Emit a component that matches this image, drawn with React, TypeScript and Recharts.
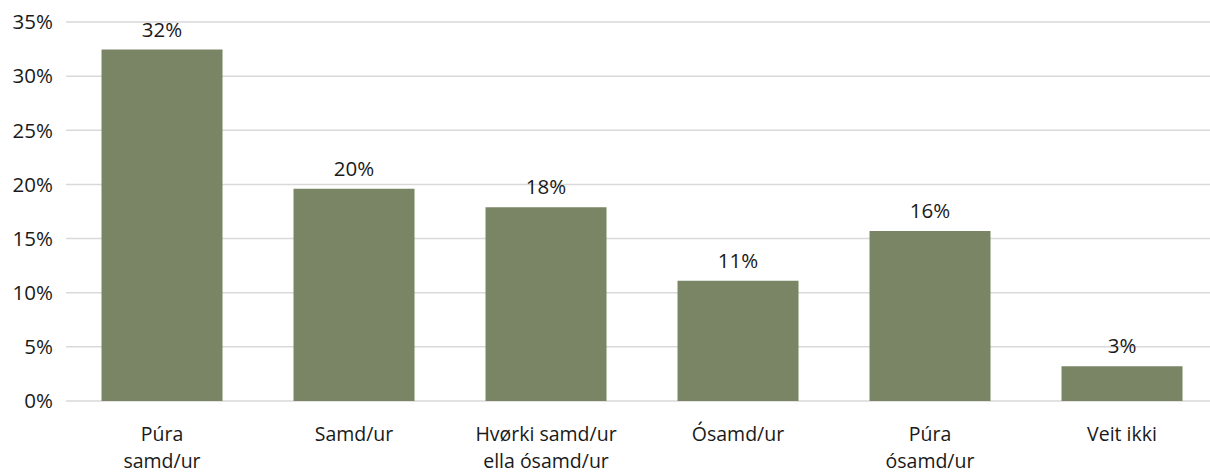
import React from "react";
import {
  BarChart,
  Bar,
  XAxis,
  YAxis,
  CartesianGrid,
  LabelList,
} from "recharts";

const categories = [
  "Púra\nsamd/ur",
  "Samd/ur",
  "Hvørki samd/ur\nella ósamd/ur",
  "Ósamd/ur",
  "Púra\nósamd/ur",
  "Veit ikki",
];
const shares = [32.45, 19.6, 17.9, 11.1, 15.7, 3.2];
const yTicks = [0, 5, 10, 15, 20, 25, 30, 35];

const data = categories.map((name, i) => ({ name, value: shares[i] }));

const FONT = "'Open Sans', sans-serif";
const TEXT = "#1a1a1a";

function CategoryTick(props: any) {
  const { x, y, payload } = props;
  const lines = String(payload.value).split("\n");
  return (
    <text
      x={x}
      y={y}
      textAnchor="middle"
      fill={TEXT}
      fontFamily={FONT}
      fontSize={19.5}
    >
      {lines.map((line, i) => (
        <tspan key={i} x={x} dy={i === 0 ? 40 : 27}>
          {line}
        </tspan>
      ))}
    </text>
  );
}

export default function App() {
  return (
    <div
      style={{
        position: "fixed",
        left: 0,
        top: 0,
        width: 1210,
        height: 473,
        overflow: "hidden",
        background: "#fff",
      }}
    >
      <BarChart
        width={1218}
        height={473}
        data={data}
        margin={{ top: 22, right: 0, left: 0, bottom: 0 }}
        barCategoryGap="18.5%"
      >
        <CartesianGrid vertical={false} stroke="#d9d9d9" strokeWidth={1.5} />
        <XAxis
          dataKey="name"
          height={72}
          axisLine={false}
          tickLine={false}
          tickSize={0}
          tickMargin={0}
          interval={0}
          tick={<CategoryTick />}
        />
        <YAxis
          width={66}
          domain={[0, 35]}
          ticks={yTicks}
          axisLine={false}
          tickLine={false}
          tickSize={0}
          tickMargin={13}
          tickFormatter={(v) => `${v}%`}
          tick={{ fill: TEXT, fontFamily: FONT, fontSize: 20.5 }}
        />
        <Bar dataKey="value" fill="#798564" isAnimationActive={false}>
          <LabelList
            dataKey="value"
            position="top"
            offset={13}
            formatter={(v: any) => `${Math.round(Number(v))}%`}
            style={{ fill: TEXT, fontFamily: FONT, fontSize: 20.5 }}
          />
        </Bar>
      </BarChart>
    </div>
  );
}
